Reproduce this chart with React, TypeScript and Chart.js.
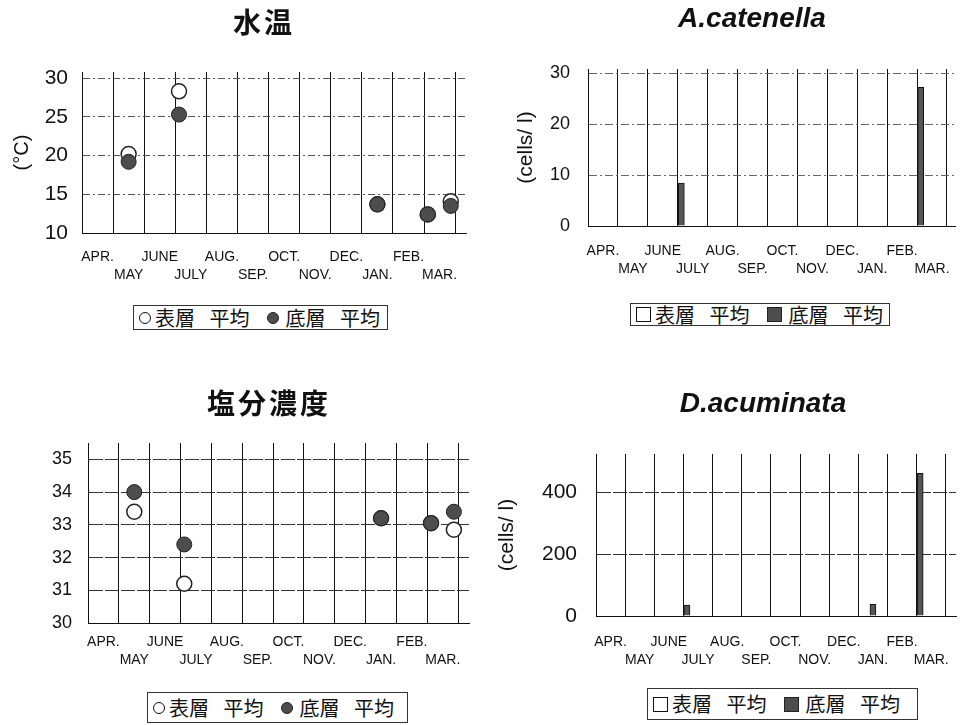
import React, { useEffect, useRef } from 'react';
import { Chart, registerables } from 'chart.js';

Chart.register(...registerables);

// ---------- data ----------
const MONTH_LABELS = ['APR.', 'MAY', 'JUNE', 'JULY', 'AUG.', 'SEP.', 'OCT.', 'NOV.', 'DEC.', 'JAN.', 'FEB.', 'MAR.'];
// sampling positions on the month axis (0 = start of April, 12 = end of March)
const SAMPLE_X = [1.5, 3.12, 9.5, 11.12, 11.86];

const TEMP_SURFACE = [20.2, 28.3, 13.7, 12.4, 14.1];
const TEMP_BOTTOM = [19.2, 25.3, 13.7, 12.4, 13.5];
const TEMP_TICKS = [10, 15, 20, 25, 30];

const SAL_SURFACE = [33.4, 31.2, 33.2, 33.05, 32.85];
const SAL_BOTTOM = [34.0, 32.4, 33.2, 33.05, 33.4];
const SAL_TICKS = [30, 31, 32, 33, 34, 35];

const ACAT_SURFACE = [0, 0, 0, 0, 0];
const ACAT_BOTTOM = [0, 8.4, 0, 27.2, 0];
const ACAT_TICKS = [0, 10, 20, 30];

const DACU_SURFACE = [0, 0, 0, 0, 0];
const DACU_BOTTOM = [0, 35, 38, 462, 0];
const DACU_TICKS = [0, 200, 400];

const SURFACE_LABEL = '表層 平均';
const BOTTOM_LABEL = '底層 平均';

// ---------- styles ----------
const SANS = "'Liberation Sans', Arial, sans-serif";
const CJK = "'Noto Sans CJK JP', 'Noto Sans CJK SC', sans-serif";
const DARK = '#4d4d4d';
const INK = '#111';

type Layout = {
  left: number; top: number; width: number; height: number;
  padTop: number; padRight: number; yWidth: number; xHeight: number;
  xMax: number; xPad: number; yFont: number; yPad: number;
  yTitle?: string; yTitleSize?: number; yTitlePad?: number;
  gridColor: string; gridDash: number[];
};

const L_TEMP: Layout = {
  left: 0, top: 0, width: 480, height: 290, padTop: 72, padRight: 14, yWidth: 82, xHeight: 57,
  xMax: 12.35, xPad: 15, yFont: 21, yPad: 14, yTitle: '(°C)', yTitleSize: 20, yTitlePad: 10,
  gridColor: '#555', gridDash: [7, 3, 2, 3],
};
const L_ACAT: Layout = {
  left: 480, top: 0, width: 483, height: 290, padTop: 69, padRight: 0, yWidth: 108, xHeight: 64,
  xMax: 12.3, xPad: 16, yFont: 18, yPad: 18, yTitle: '(cells/ l)', yTitleSize: 21, yTitlePad: 34,
  gridColor: '#666', gridDash: [8, 3, 2, 3],
};
const L_SAL: Layout = {
  left: 0, top: 380, width: 480, height: 300, padTop: 63, padRight: 11, yWidth: 88, xHeight: 57,
  xMax: 12.35, xPad: 10, yFont: 18, yPad: 16,
  gridColor: '#333', gridDash: [14, 2],
};
const L_DACU: Layout = {
  left: 480, top: 380, width: 483, height: 300, padTop: 74, padRight: 6, yWidth: 116, xHeight: 64,
  xMax: 12.35, xPad: 17, yFont: 21, yPad: 19, yTitle: '(cells/ l)', yTitleSize: 21, yTitlePad: 15,
  gridColor: '#333', gridDash: [14, 2],
};

function points(values: number[]) {
  return SAMPLE_X.map((x, i) => ({ x, y: values[i] }));
}

function xScale(L: Layout, isBar: boolean) {
  return {
    type: 'linear',
    position: 'bottom',
    min: 0,
    max: L.xMax,
    offset: false,
    afterBuildTicks: (s: any) => {
      const t: any[] = [];
      for (let i = 0; i <= MONTH_LABELS.length; i++) {
        t.push({ value: i });
        if (i < MONTH_LABELS.length) t.push({ value: i + 0.5 });
      }
      s.ticks = t;
    },
    afterFit: (s: any) => { s.height = L.xHeight; },
    grid: {
      offset: false,
      drawTicks: false,
      lineWidth: 1,
      color: (c: any) => (c.tick && Number.isInteger(c.tick.value) ? INK : 'rgba(0,0,0,0)'),
    },
    border: { display: true, color: INK, width: 1 },
    ticks: {
      autoSkip: false,
      maxRotation: 0,
      minRotation: 0,
      padding: L.xPad,
      color: INK,
      font: { family: SANS, size: 14, lineHeight: 1.3 },
      callback: (v: number) => {
        if (Number.isInteger(v)) return '';
        const i = Math.floor(v);
        return i % 2 === 0 ? [MONTH_LABELS[i], ''] : ['', MONTH_LABELS[i]];
      },
    },
  };
}

function yScale(L: Layout, min: number, max: number, ticks: number[]) {
  return {
    type: 'linear',
    min,
    max,
    afterBuildTicks: (s: any) => { s.ticks = ticks.map((v) => ({ value: v })); },
    afterFit: (s: any) => { s.width = L.yWidth; },
    grid: { color: L.gridColor, lineWidth: 1, drawTicks: false },
    border: { display: true, color: INK, width: 1, dash: L.gridDash },
    ticks: { padding: L.yPad, color: INK, font: { family: SANS, size: L.yFont } },
    title: L.yTitle
      ? {
          display: true,
          text: L.yTitle,
          color: INK,
          font: { family: SANS, size: L.yTitleSize },
          padding: { top: L.yTitlePad, bottom: 0 },
        }
      : { display: false },
  };
}

function baseOptions(L: Layout) {
  return {
    responsive: false,
    maintainAspectRatio: false,
    animation: false,
    events: [],
    layout: { padding: { left: 0, right: L.padRight, top: L.padTop, bottom: 0 } },
    plugins: { legend: { display: false }, title: { display: false }, tooltip: { enabled: false } },
  };
}

function scatterConfig(L: Layout, surface: number[], bottom: number[], min: number, max: number, ticks: number[]) {
  return {
    type: 'scatter',
    data: {
      datasets: [
        {
          label: BOTTOM_LABEL,
          data: points(bottom),
          backgroundColor: DARK,
          borderColor: '#222',
          borderWidth: 1,
          pointRadius: 7.5,
        },
        {
          label: SURFACE_LABEL,
          data: points(surface),
          backgroundColor: '#fff',
          borderColor: '#222',
          borderWidth: 1.5,
          pointRadius: 7.5,
        },
      ],
    },
    options: {
      ...baseOptions(L),
      scales: { x: xScale(L, false), y: yScale(L, min, max, ticks) },
    },
  };
}

function barConfig(L: Layout, surface: number[], bottom: number[], min: number, max: number, ticks: number[]) {
  return {
    type: 'bar',
    data: {
      datasets: [
        {
          label: SURFACE_LABEL,
          data: points(surface),
          backgroundColor: '#fff',
          borderColor: INK,
          borderWidth: 0,
          barThickness: 6,
          grouped: false,
        },
        {
          label: BOTTOM_LABEL,
          data: points(bottom),
          backgroundColor: '#555',
          borderColor: INK,
          borderWidth: 1,
          barThickness: 6,
          grouped: false,
        },
      ],
    },
    options: {
      ...baseOptions(L),
      scales: { x: xScale(L, true), y: yScale(L, min, max, ticks) },
    },
  };
}

function ChartCanvas({ L, build }: { L: Layout; build: () => any }) {
  const ref = useRef<HTMLCanvasElement | null>(null);
  useEffect(() => {
    if (!ref.current) return;
    const chart = new Chart(ref.current, build());
    return () => chart.destroy();
  }, []);
  return (
    <div style={{ position: 'absolute', left: L.left, top: L.top, width: L.width, height: L.height }}>
      <canvas ref={ref} width={L.width} height={L.height} style={{ display: 'block', width: L.width, height: L.height }} />
    </div>
  );
}

function Title({ x, y, text, italic, cjk }: { x: number; y: number; text: string; italic?: boolean; cjk?: boolean }) {
  return (
    <div
      style={{
        position: 'absolute',
        left: x,
        top: y,
        transform: 'translate(-50%, -50%)',
        whiteSpace: 'nowrap',
        lineHeight: 1,
        fontSize: 28,
        fontWeight: 'bold',
        fontStyle: italic ? 'italic' : 'normal',
        fontFamily: cjk ? CJK : SANS,
        letterSpacing: cjk ? 3 : 0,
        color: INK,
      }}
    >
      {text}
    </div>
  );
}

function Symbol({ kind, dark }: { kind: 'circle' | 'square'; dark: boolean }) {
  const size = kind === 'circle' ? 12 : 15;
  return (
    <span
      style={{
        display: 'inline-block',
        width: size,
        height: size,
        boxSizing: 'border-box',
        borderRadius: kind === 'circle' ? '50%' : 0,
        border: `1.5px solid ${dark ? '#222' : INK}`,
        background: dark ? DARK : '#fff',
        flex: '0 0 auto',
      }}
    />
  );
}

function Legend({ left, top, width, height, kind }: { left: number; top: number; width: number; height: number; kind: 'circle' | 'square' }) {
  const word = (t: string, ml: number) => (
    <span style={{ marginLeft: ml, fontFamily: CJK, fontSize: 20, lineHeight: 1, wordSpacing: 10, whiteSpace: 'nowrap', color: INK }}>{t}</span>
  );
  return (
    <div
      style={{
        position: 'absolute',
        left,
        top,
        width,
        height,
        boxSizing: 'border-box',
        border: '1px solid #333',
        display: 'flex',
        alignItems: 'center',
        paddingLeft: 5,
        background: '#fff',
      }}
    >
      <Symbol kind={kind} dark={false} />
      {word(SURFACE_LABEL, 4)}
      <span style={{ width: 18, flex: '0 0 auto' }} />
      <Symbol kind={kind} dark={true} />
      {word(BOTTOM_LABEL, 6)}
    </div>
  );
}

export default function App() {
  useEffect(() => {
    document.body.style.margin = '0';
  }, []);
  return (
    <div style={{ position: 'absolute', left: 0, top: 0, width: 963, height: 725, background: '#fff', overflow: 'hidden' }}>
      <ChartCanvas L={L_TEMP} build={() => scatterConfig(L_TEMP, TEMP_SURFACE, TEMP_BOTTOM, 10, 30.8, TEMP_TICKS)} />
      <ChartCanvas L={L_ACAT} build={() => barConfig(L_ACAT, ACAT_SURFACE, ACAT_BOTTOM, 0, 30.8, ACAT_TICKS)} />
      <ChartCanvas L={L_SAL} build={() => scatterConfig(L_SAL, SAL_SURFACE, SAL_BOTTOM, 30, 35.5, SAL_TICKS)} />
      <ChartCanvas L={L_DACU} build={() => barConfig(L_DACU, DACU_SURFACE, DACU_BOTTOM, 0, 525, DACU_TICKS)} />

      <Title x={264} y={21} text="水温" cjk />
      <Title x={752} y={18} text="A.catenella" italic />
      <Title x={269} y={402} text="塩分濃度" cjk />
      <Title x={763} y={402.5} text="D.acuminata" italic />

      <Legend left={133} top={305} width={255} height={25} kind="circle" />
      <Legend left={630} top={303} width={260} height={23} kind="square" />
      <Legend left={147} top={692} width={261} height={31} kind="circle" />
      <Legend left={647} top={688} width={271} height={32} kind="square" />
    </div>
  );
}
